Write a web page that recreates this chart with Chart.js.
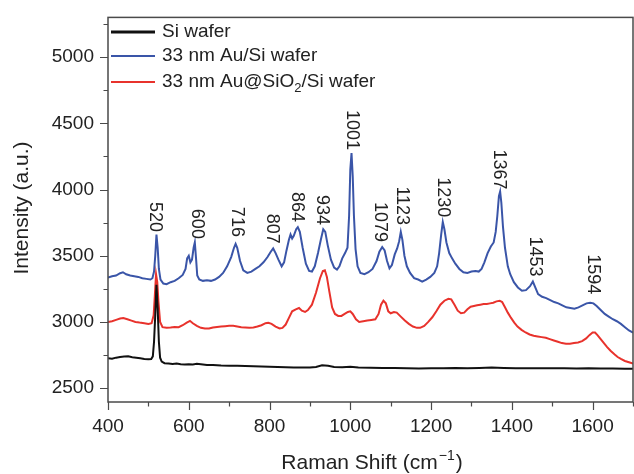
<!DOCTYPE html>
<html>
<head>
<meta charset="utf-8">
<script src="https://cdn.jsdelivr.net/npm/chart.js@4.4.1/dist/chart.umd.min.js"></script>
<style>
  html, body { margin: 0; padding: 0; background: #fff; }
  canvas { display: block; }
</style>
</head>
<body>
<canvas id="chart" width="634" height="474"></canvas>
<script>
// Raman spectra: Si wafer, 33 nm Au/Si, 33 nm Au@SiO2/Si

// --- Data ---

var siX = [400, 410, 420, 430, 440, 450, 460, 470, 480, 490, 500, 507, 511, 514, 517, 520, 523, 526, 529, 533,
  540, 550, 560, 570, 580, 590, 600, 610, 620, 630, 645, 660, 680, 700, 720, 740, 760, 780, 800, 820,
  840, 860, 880, 900, 915, 930, 945, 960, 980, 1000, 1020, 1050, 1080, 1110, 1140, 1170, 1200, 1230, 1260, 1290,
  1320, 1350, 1380, 1410, 1440, 1470, 1500, 1530, 1560, 1590, 1620, 1650, 1680, 1700];
var siY = [2725, 2722, 2730, 2735, 2738, 2740, 2733, 2730, 2725, 2720, 2718, 2720, 2740, 2850, 3050, 3280, 3100, 2850, 2730, 2700,
  2688, 2685, 2682, 2685, 2680, 2678, 2680, 2678, 2683, 2680, 2675, 2674, 2670, 2668, 2668, 2667, 2665, 2664, 2662, 2660,
  2658, 2656, 2655, 2655, 2660, 2672, 2668, 2660, 2657, 2662, 2656, 2653, 2652, 2651, 2650, 2648, 2650, 2650, 2652, 2650,
  2652, 2655, 2652, 2650, 2650, 2649, 2650, 2650, 2648, 2650, 2648, 2648, 2647, 2646];

var auX = [400, 410, 420, 430, 437, 445, 455, 465, 475, 485, 495, 505, 510, 514, 517, 520, 523, 526, 530, 537,
  545, 555, 565, 575, 585, 592, 596, 600, 604, 608, 612, 615, 618, 621, 626, 635, 645, 655, 665, 675,
  685, 695, 705, 712, 716, 720, 727, 735, 745, 755, 765, 775, 785, 795, 803, 809, 815, 822, 830, 836,
  842, 848, 852, 856, 860, 866, 870, 875, 882, 890, 898, 905, 912, 920, 927, 933, 938, 944, 952, 960,
  967, 973, 980, 987, 993, 997, 1000, 1003, 1006, 1009, 1013, 1018, 1025, 1035, 1045, 1055, 1065, 1072, 1079, 1085,
  1091, 1097, 1103, 1110, 1116, 1121, 1125, 1129, 1134, 1140, 1148, 1158, 1168, 1178, 1188, 1198, 1208, 1215, 1220, 1225,
  1229, 1233, 1238, 1245, 1252, 1260, 1270, 1280, 1290, 1300, 1310, 1318, 1325, 1332, 1340, 1348, 1355, 1360, 1364, 1368,
  1371, 1374, 1378, 1383, 1390, 1396, 1405, 1415, 1425, 1435, 1445, 1452, 1458, 1465, 1475, 1485, 1495, 1505, 1515, 1525,
  1535, 1545, 1555, 1565, 1575, 1585, 1594, 1602, 1610, 1620, 1630, 1640, 1650, 1660, 1670, 1680, 1690, 1700];
var auY = [3335, 3345, 3350, 3368, 3375, 3360, 3350, 3345, 3340, 3330, 3325, 3320, 3330, 3380, 3500, 3660, 3560, 3400, 3320, 3290,
  3285, 3300, 3310, 3330, 3355, 3400, 3480, 3500, 3450, 3470, 3560, 3600, 3480, 3350, 3320, 3310, 3315, 3310, 3320, 3340,
  3370, 3420, 3490, 3560, 3590, 3560, 3460, 3390, 3370, 3380, 3400, 3420, 3450, 3490, 3530, 3555, 3520, 3470, 3420, 3450,
  3540, 3620, 3660, 3630, 3650, 3700, 3715, 3680, 3560, 3440, 3385, 3380, 3420, 3520, 3620, 3700, 3680, 3580, 3470, 3410,
  3395, 3420, 3480, 3520, 3560, 3800, 4150, 4275, 4100, 3800, 3550, 3420, 3370, 3360, 3375, 3400, 3460, 3530, 3565, 3540,
  3460, 3405, 3430, 3510, 3555, 3610, 3680, 3620, 3500, 3420, 3370, 3330, 3320, 3305, 3320, 3340, 3370, 3420, 3520, 3660,
  3755, 3700, 3600, 3520, 3480, 3440, 3400, 3375, 3370, 3380, 3385, 3380, 3400, 3450, 3520, 3570, 3600, 3680, 3800, 3950,
  3985, 3900, 3720, 3560, 3420, 3360, 3300, 3260, 3235, 3240, 3270, 3305, 3260, 3210, 3190, 3180, 3165, 3150, 3140, 3125,
  3110, 3105, 3100, 3110, 3125, 3140, 3145, 3140, 3120, 3090, 3060, 3040, 3020, 3005, 2985, 2960, 2935, 2920];

var auSiO2X = [400, 410, 420, 430, 438, 448, 458, 468, 478, 490, 500, 508, 513, 516, 519, 522, 525, 529, 535, 545,
  555, 565, 575, 585, 595, 603, 610, 620, 630, 640, 650, 660, 670, 680, 690, 700, 710, 720, 730, 740,
  750, 760, 770, 780, 790, 797, 805, 815, 825, 832, 840, 848, 856, 865, 873, 880, 888, 895, 905, 915,
  925, 932, 937, 942, 948, 955, 962, 970, 978, 986, 994, 1000, 1006, 1014, 1022, 1032, 1042, 1052, 1062, 1070,
  1076, 1082, 1088, 1094, 1100, 1108, 1115, 1125, 1135, 1145, 1155, 1165, 1173, 1183, 1193, 1203, 1213, 1223, 1233, 1243,
  1250, 1258, 1266, 1274, 1282, 1290, 1298, 1306, 1314, 1322, 1330, 1338, 1346, 1354, 1362, 1370, 1376, 1383, 1390, 1398,
  1406, 1414, 1424, 1434, 1444, 1454, 1464, 1474, 1484, 1494, 1504, 1514, 1524, 1534, 1544, 1554, 1564, 1574, 1584, 1592,
  1600, 1606, 1612, 1620, 1628, 1636, 1645, 1654, 1662, 1670, 1680, 1690, 1700];
var auSiO2Y = [3000, 3005, 3015, 3025, 3030, 3020, 3010, 3000, 2995, 2990, 2985, 2990, 3050, 3200, 3360, 3300, 3150, 3000, 2960, 2955,
  2958, 2962, 2960, 2975, 2995, 3008, 2990, 2970, 2955, 2950, 2950, 2958, 2962, 2965, 2968, 2970, 2970, 2965, 2960, 2958,
  2955, 2958, 2965, 2975, 2990, 2993, 2985, 2965, 2950, 2955, 2980, 3030, 3080, 3095, 3105, 3085, 3075, 3090, 3130, 3220,
  3330, 3385, 3390, 3340, 3230, 3110, 3060, 3045, 3045, 3060, 3075, 3080, 3060, 3020, 3000, 3005, 3010, 3015, 3020, 3060,
  3130, 3160, 3140, 3080, 3065, 3075, 3070, 3040, 3010, 2985, 2965, 2955, 2955, 2970, 3000, 3035, 3080, 3130, 3160, 3175,
  3170, 3130, 3085, 3065, 3070, 3095, 3115, 3120, 3125, 3130, 3135, 3135, 3140, 3145, 3155, 3160, 3150, 3110, 3070, 3030,
  2995, 2965, 2940, 2920, 2905, 2895, 2890, 2885, 2880, 2870, 2860, 2850, 2840, 2835, 2835, 2840, 2845, 2855, 2875, 2900,
  2920, 2920, 2900, 2870, 2840, 2810, 2780, 2755, 2735, 2720, 2705, 2695, 2685];

// peak annotations: label, shift where the label sits, intensity at the label's lower end
var peakLabels = ["520", "600", "716", "807", "864", "934", "1001", "1079", "1123", "1230", "1367", "1453", "1594"];
var peakShift = [516, 620, 719, 806, 868, 930, 1004, 1073, 1128, 1229, 1368, 1457, 1601];
var peakLabelY = [3679, 3627, 3642, 3590, 3754, 3731, 4298, 3604, 3731, 3791, 4000, 3343, 3209];

var xMajorTicks = [400, 600, 800, 1000, 1200, 1400, 1600];
var xMinorTicks = [500, 700, 900, 1100, 1300, 1500, 1700];
var yMajorTicks = [2500, 3000, 3500, 4000, 4500, 5000];
var yMinorTicks = [2750, 3250, 3750, 4250, 4750, 5250];

var FONT = "'Liberation Sans', Arial, Helvetica, sans-serif";
var INK = "#222";

function points(xs, ys) {
  return xs.map(function(x, i) { return { x: x, y: ys[i] }; });
}

function setTicks(values) {
  return function(scale) {
    scale.ticks = values.map(function(v) { return { value: v }; });
  };
}

function plainLabel(value) {
  return String(value);
}

// --- Frame, minor ticks, annotations, legend, axis titles ---

var decorations = {
  id: "decorations",
  afterDraw: function(chart) {
    var ctx = chart.ctx;
    var a = chart.chartArea;
    var xs = chart.scales.x, ys = chart.scales.y;
    ctx.save();

    // box
    ctx.strokeStyle = "#4a4a4a";
    ctx.lineWidth = 1.5;
    ctx.strokeRect(a.left, a.top, a.right - a.left, a.bottom - a.top);

    // tick marks (outward)
    ctx.lineWidth = 1.2;
    ctx.beginPath();
    xMajorTicks.forEach(function(v) { var p = Math.round(xs.getPixelForValue(v)) + 0.5; ctx.moveTo(p, a.bottom); ctx.lineTo(p, a.bottom + 8); });
    xMinorTicks.forEach(function(v) { var p = Math.round(xs.getPixelForValue(v)) + 0.5; ctx.moveTo(p, a.bottom); ctx.lineTo(p, a.bottom + 4.5); });
    yMajorTicks.forEach(function(v) { var p = Math.round(ys.getPixelForValue(v)) + 0.5; ctx.moveTo(a.left, p); ctx.lineTo(a.left - 8, p); });
    yMinorTicks.forEach(function(v) { var p = Math.round(ys.getPixelForValue(v)) + 0.5; ctx.moveTo(a.left, p); ctx.lineTo(a.left - 4.5, p); });
    ctx.stroke();

    // peak labels, rotated to read downwards
    ctx.fillStyle = INK;
    ctx.font = "18px " + FONT;
    ctx.textAlign = "right";
    ctx.textBaseline = "middle";
    peakLabels.forEach(function(t, i) {
      ctx.save();
      ctx.translate(xs.getPixelForValue(peakShift[i]), ys.getPixelForValue(peakLabelY[i]));
      ctx.rotate(Math.PI / 2);
      ctx.fillText(t, 0, 0);
      ctx.restore();
    });

    // legend
    var rows = [
      { color: "#111111", width: 2.8, y: 32, parts: [["Si wafer", 0]] },
      { color: "#3a55a8", width: 2, y: 56, parts: [["33 nm Au/Si wafer", 0]] },
      { color: "#e8322c", width: 2, y: 82, parts: [["33 nm Au@SiO", 0], ["2", 1], ["/Si wafer", 0]] }
    ];
    ctx.textAlign = "left";
    ctx.textBaseline = "middle";
    rows.forEach(function(r) {
      ctx.strokeStyle = r.color;
      ctx.lineWidth = r.width;
      ctx.beginPath();
      ctx.moveTo(111, r.y);
      ctx.lineTo(155, r.y);
      ctx.stroke();
      var x = 162;
      r.parts.forEach(function(p) {
        ctx.font = (p[1] ? "13px " : "19px ") + FONT;
        ctx.fillText(p[0], x, r.y + (p[1] ? 6 : 0));
        x += ctx.measureText(p[0]).width;
      });
    });

    // y axis title
    ctx.font = "21px " + FONT;
    ctx.textAlign = "center";
    ctx.save();
    ctx.translate(22, 208);
    ctx.rotate(-Math.PI / 2);
    ctx.fillText("Intensity (a.u.)", 0, 0);
    ctx.restore();

    // x axis title with superscript
    ctx.textAlign = "left";
    ctx.textBaseline = "alphabetic";
    var main = "Raman Shift (cm", sup = "\u22121", close = ")";
    ctx.font = "21px " + FONT;
    var w1 = ctx.measureText(main).width, w3 = ctx.measureText(close).width;
    ctx.font = "14px " + FONT;
    var w2 = ctx.measureText(sup).width;
    var x0 = 371 - (w1 + w2 + w3) / 2;
    ctx.font = "21px " + FONT;
    ctx.fillText(main, x0, 469);
    ctx.font = "14px " + FONT;
    ctx.fillText(sup, x0 + w1 + 1, 460);
    ctx.font = "21px " + FONT;
    ctx.fillText(close, x0 + w1 + w2 + 2, 469);

    ctx.restore();
  }
};

function createChart() {
  var lineStyle = { borderWidth: 2, pointRadius: 0, tension: 0, fill: false };
  return new Chart(document.getElementById("chart"), {
    type: "line",
    data: {
      datasets: [
        Object.assign({ label: "Si wafer", data: points(siX, siY), borderColor: "#111111" }, lineStyle),
        Object.assign({ label: "33 nm Au/Si wafer", data: points(auX, auY), borderColor: "#3a55a8" }, lineStyle),
        Object.assign({ label: "33 nm Au@SiO2/Si wafer", data: points(auSiO2X, auSiO2Y), borderColor: "#e8322c" }, lineStyle)
      ]
    },
    options: {
      responsive: false,
      animation: false,
      devicePixelRatio: 1,
      layout: { padding: { top: 13, right: 1, left: 0, bottom: 0 } },
      plugins: { legend: { display: false }, tooltip: { enabled: false } },
      scales: {
        x: {
          type: "linear",
          min: 400,
          max: 1700,
          afterBuildTicks: setTicks(xMajorTicks),
          afterFit: function(s) { s.height = 72; },
          border: { display: false },
          grid: { drawOnChartArea: false, color: "rgba(0,0,0,0)", tickLength: 8 },
          ticks: { font: { family: FONT, size: 19 }, color: INK, padding: 5, maxRotation: 0, callback: plainLabel }
        },
        y: {
          type: "linear",
          min: 2395,
          max: 5300,
          afterBuildTicks: setTicks(yMajorTicks),
          afterFit: function(s) { s.width = 108; },
          border: { display: false },
          grid: { drawOnChartArea: false, color: "rgba(0,0,0,0)", tickLength: 8 },
          ticks: { font: { family: FONT, size: 19 }, color: INK, padding: 6, callback: plainLabel }
        }
      }
    },
    plugins: [decorations]
  });
}

createChart();
</script>
</body>
</html>
